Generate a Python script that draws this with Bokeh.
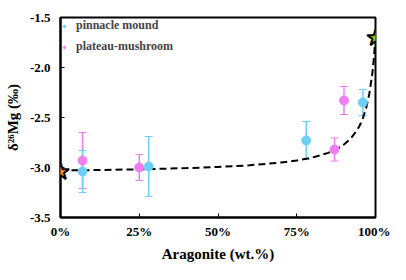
from bokeh.plotting import figure
from bokeh.models import ColumnDataSource, Whisker, TeeHead, FixedTicker, CustomJSTickFormatter, Legend, LegendItem, Label
from bokeh.embed import file_html
from bokeh.resources import INLINE

# pinnacle mound
pm_x = [7, 28, 78, 96]
pm_y = [-3.04, -2.99, -2.73, -2.35]
pm_err = [0.21, 0.30, 0.19, 0.13]
# plateau-mushroom
pl_x = [7, 25, 87, 90]
pl_y = [-2.93, -3.00, -2.82, -2.33]
pl_err = [0.28, 0.13, 0.115, 0.14]
# end members
calcite_x = 0
calcite_y = -3.03
arag_x = 100
arag_y = -1.69
# mixing curve
mix_x = [0, 10, 20, 30, 40, 50, 60, 70, 75, 80, 85, 88, 90, 92, 94, 95, 96, 97, 98, 99, 99.5, 100]
mix_y = [-3.03, -3.026, -3.021, -3.015, -3.006, -2.995, -2.978, -2.95, -2.93, -2.90, -2.854, -2.81,
         -2.77, -2.715, -2.635, -2.58, -2.506, -2.41, -2.27, -2.06, -1.90, -1.69]

x_ticks = [0, 25, 50, 75, 100]
y_ticks = [-3.5, -3.0, -2.5, -2.0, -1.5]

BLUE = "#6ecff6"
PINK = "#f07ef0"
FONT = "Liberation Serif"

p = figure(width=390, height=264, x_range=(0, 100), y_range=(-3.5, -1.5),
           output_backend="svg", toolbar_location=None,
           min_border_left=60, min_border_right=15, min_border_top=17, min_border_bottom=42)
p.xgrid.visible = False
p.ygrid.visible = False
p.outline_line_color = "black"
p.outline_line_width = 2

for ax in (p.xaxis, p.yaxis):
    ax.axis_line_width = 2
    ax.major_tick_in = 4
    ax.major_tick_out = 0
    ax.minor_tick_line_color = None
    ax.major_label_text_font = FONT
    ax.major_label_text_font_style = "bold"
    ax.major_label_text_font_size = "13px"
    ax.major_label_text_color = "black"
    ax.axis_label_text_font = FONT
    ax.axis_label_text_font_style = "bold"
    ax.axis_label_text_font_size = "15px"
    ax.axis_label_text_color = "black"

p.xaxis.ticker = FixedTicker(ticks=x_ticks)
p.yaxis.ticker = FixedTicker(ticks=y_ticks)
p.xaxis.formatter = CustomJSTickFormatter(code="return tick.toFixed(0) + '%';")
p.yaxis.formatter = CustomJSTickFormatter(code="return tick.toFixed(1);")
p.xaxis.axis_label = "Aragonite (wt.%)"
p.yaxis.axis_label = "δ²⁶Mg (‰)"
p.xaxis.major_label_standoff = 6
p.yaxis.major_label_standoff = 10
p.xaxis.axis_label_standoff = 4
p.yaxis.axis_label_standoff = 6

# mixing curve
p.line(mix_x, mix_y, line_color="black", line_width=2, line_dash="7 4")

src_pm = ColumnDataSource(dict(x=pm_x, y=pm_y, lo=[a - b for a, b in zip(pm_y, pm_err)],
                               hi=[a + b for a, b in zip(pm_y, pm_err)]))
src_pl = ColumnDataSource(dict(x=pl_x, y=pl_y, lo=[a - b for a, b in zip(pl_y, pl_err)],
                               hi=[a + b for a, b in zip(pl_y, pl_err)]))

for src, col in ((src_pl, PINK), (src_pm, BLUE)):
    w = Whisker(source=src, base="x", lower="lo", upper="hi", line_color=col, line_width=1.5,
                upper_head=TeeHead(size=8, line_color=col, line_width=1.2),
                lower_head=TeeHead(size=8, line_color=col, line_width=1.2))
    p.add_layout(w)

r_pl = p.scatter("x", "y", source=src_pl, size=9, fill_color=PINK, line_color=PINK)
r_pm = p.scatter("x", "y", source=src_pm, size=9, fill_color=BLUE, line_color=BLUE)

for sx, sy, col in ((calcite_x, calcite_y, "#f7941d"), (arag_x, arag_y, "#7ddc1f")):
    p.add_layout(Label(x=sx, y=sy, text="★", text_align="center", text_baseline="middle",
                       text_font="DejaVu Sans", text_font_size="22px", text_color=col,
                       text_outline_color="black", y_offset=-1))

legend = Legend(items=[LegendItem(label="pinnacle mound", renderers=[r_pm]),
                       LegendItem(label="plateau-mushroom", renderers=[r_pl])],
                location="top_left", border_line_color=None, background_fill_alpha=0,
                label_text_font=FONT, label_text_font_style="bold", label_text_font_size="12px",
                glyph_width=6, glyph_height=14, label_standoff=9, spacing=6, padding=6, margin=1,
                label_height=14)
p.add_layout(legend)

open("out.html", "w").write(file_html(p, INLINE))
